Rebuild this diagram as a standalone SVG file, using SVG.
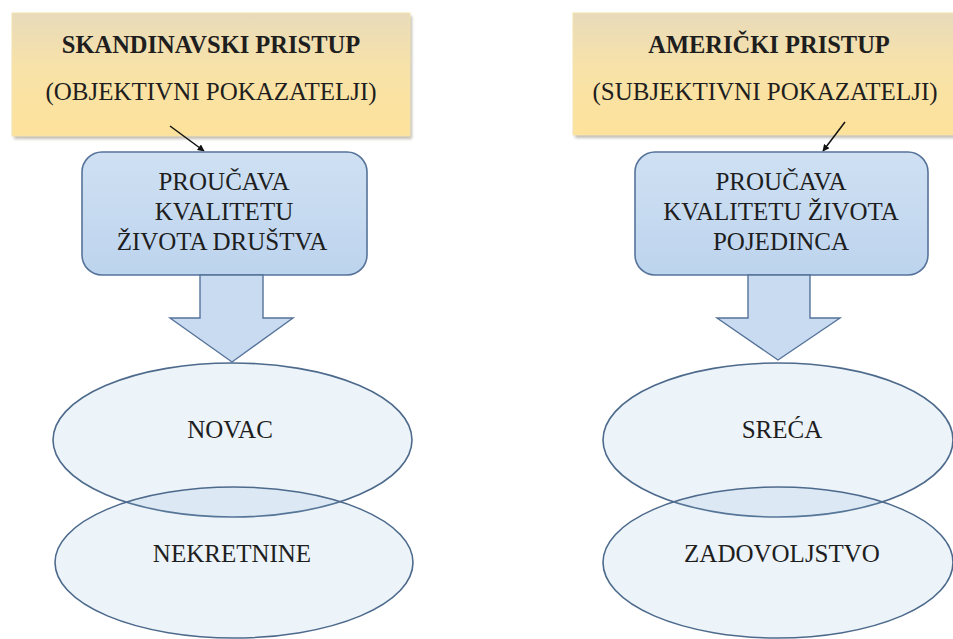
<svg xmlns="http://www.w3.org/2000/svg" width="953" height="639" viewBox="0 0 953 639">
  <defs>
    <linearGradient id="gy" x1="0" y1="0" x2="0" y2="1">
      <stop offset="0" stop-color="#e8dbbb"/>
      <stop offset="0.45" stop-color="#f8e2a8"/>
      <stop offset="1" stop-color="#fde29b"/>
    </linearGradient>
    <linearGradient id="gb" x1="0" y1="0" x2="0" y2="1">
      <stop offset="0" stop-color="#cfe0f2"/>
      <stop offset="1" stop-color="#bdd4ee"/>
    </linearGradient>
    <filter id="sh" x="-5%" y="-10%" width="110%" height="130%">
      <feGaussianBlur stdDeviation="1.5"/>
    </filter>
    <marker id="ah" viewBox="0 0 10 10" refX="9" refY="5" markerWidth="7" markerHeight="7" orient="auto" markerUnits="userSpaceOnUse">
      <path d="M0,0 L10,5 L0,10 z" fill="#111"/>
    </marker>
  </defs>
  <style>
    .t { font-family: "Liberation Serif", "Times New Roman", serif; fill: #1e1e1e; text-anchor: middle; }
    .h { font-size: 24.5px; font-weight: bold; }
    .r { font-size: 25px; }
    .yb { fill: url(#gy); stroke: #f3e3b0; stroke-width: 1; }
    .shadow { fill: #9a9080; opacity: 0.6; filter: url(#sh); }
    .bb { fill: url(#gb); stroke: #56739a; stroke-width: 1.6; }
    .ba { fill: #c8dbf0; stroke: #56739a; stroke-width: 1.4; }
    .el { fill: #8ab2dc; fill-opacity: 0.16; stroke: #4d6a8c; stroke-width: 1.6; }
    .ln { stroke: #111; stroke-width: 1.5; fill: none; marker-end: url(#ah); }
  </style>
  <rect width="953" height="639" fill="#ffffff"/>

  <g id="skandinavski">
    <rect class="shadow" x="14" y="16" width="398" height="123"/>
    <rect class="yb" x="12" y="13" width="398" height="123"/>
    <text class="t h" x="211" y="53">SKANDINAVSKI PRISTUP</text>
    <text class="t r" x="211" y="100">(OBJEKTIVNI POKAZATELJI)</text>
  </g>

  <g id="americki">
    <rect class="shadow" x="575" y="16" width="390" height="122"/>
    <rect class="yb" x="573" y="13" width="390" height="122"/>
    <text class="t h" x="769" y="53">AMERIČKI PRISTUP</text>
    <text class="t r" x="765" y="100">(SUBJEKTIVNI POKAZATELJI)</text>
  </g>

  <g id="connectors">
    <line class="ln" x1="170" y1="126" x2="204" y2="151"/>
    <line class="ln" x1="845" y1="122" x2="823" y2="151"/>
  </g>

  <g id="proucava-drustva">
    <rect class="bb" x="82" y="152" width="285" height="123" rx="20" ry="20"/>
    <text class="t r" x="224" y="190">PROUČAVA</text>
    <text class="t r" x="224" y="220">KVALITETU</text>
    <text class="t r" x="222" y="250">ŽIVOTA DRUŠTVA</text>
  </g>

  <g id="proucava-pojedinca">
    <rect class="bb" x="635" y="152" width="293" height="123" rx="20" ry="20"/>
    <text class="t r" x="781" y="190">PROUČAVA</text>
    <text class="t r" x="781" y="220">KVALITETU ŽIVOTA</text>
    <text class="t r" x="781" y="250">POJEDINCA</text>
  </g>

  <g id="arrow-left">
    <path class="ba" d="M200,275 L263,275 L263,318 L293,318 L232,362 L170,318 L200,318 Z"/>
  </g>
  <g id="arrow-right">
    <path class="ba" d="M748,275 L810,275 L810,318 L840,318 L778,360 L717,318 L748,318 Z"/>
  </g>

  <g id="novac">
    <ellipse class="el" cx="232.5" cy="440" rx="179.5" ry="77"/>
    <text class="t r" x="230" y="438">NOVAC</text>
  </g>
  <g id="nekretnine">
    <ellipse class="el" cx="234" cy="562.5" rx="179" ry="75.5"/>
    <text class="t r" x="232" y="562">NEKRETNINE</text>
  </g>

  <g id="sreca">
    <ellipse class="el" cx="778" cy="440" rx="175" ry="77"/>
    <text class="t r" x="782" y="438">SREĆA</text>
  </g>
  <g id="zadovoljstvo">
    <ellipse class="el" cx="778" cy="562.5" rx="175" ry="75.5"/>
    <text class="t r" x="782" y="562">ZADOVOLJSTVO</text>
  </g>
</svg>
